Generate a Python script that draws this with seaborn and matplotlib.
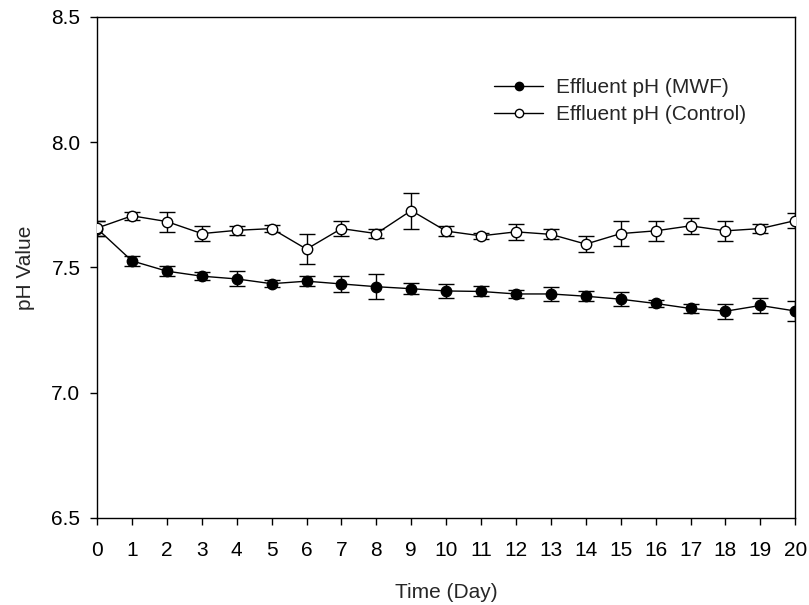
import numpy as np
import pandas as pd
import matplotlib
matplotlib.use("Agg")
import matplotlib.pyplot as plt
import seaborn as sns

days = list(range(21))
mwf = [7.655, 7.526, 7.485, 7.465, 7.454, 7.435, 7.445, 7.434, 7.423, 7.415, 7.406,
       7.404, 7.394, 7.394, 7.385, 7.373, 7.356, 7.336, 7.325, 7.348, 7.326]
mwf_err = [0.03, 0.021, 0.021, 0.016, 0.03, 0.013, 0.02, 0.031, 0.05, 0.021, 0.028,
           0.02, 0.017, 0.029, 0.019, 0.029, 0.013, 0.019, 0.029, 0.029, 0.04]
control = [7.657, 7.706, 7.683, 7.635, 7.648, 7.655, 7.573, 7.655, 7.635, 7.727, 7.645,
           7.626, 7.642, 7.632, 7.593, 7.635, 7.646, 7.666, 7.646, 7.655, 7.687]
control_err = [0.03, 0.017, 0.04, 0.03, 0.019, 0.015, 0.06, 0.029, 0.019, 0.072, 0.021,
               0.012, 0.031, 0.02, 0.031, 0.05, 0.04, 0.031, 0.04, 0.019, 0.031]
labels = ["Effluent pH (MWF)", "Effluent pH (Control)"]

sns.set_style("ticks")
plt.rcParams['font.family'] = ['Liberation Sans', 'DejaVu Sans']

fig = plt.figure(figsize=(8.09, 6.05), dpi=100)
ax = fig.add_axes([0.12, 0.144, 0.863, 0.828])

df = pd.DataFrame({"day": days, "mwf": mwf, "control": control})

ax.errorbar(days, mwf, yerr=mwf_err, fmt='none', ecolor='black', elinewidth=1,
            capsize=6, capthick=1, zorder=1)
ax.errorbar(days, control, yerr=control_err, fmt='none', ecolor='black', elinewidth=1,
            capsize=6, capthick=1, zorder=1)

sns.lineplot(data=df, x="day", y="mwf", ax=ax, color='black', linewidth=1,
             marker='o', markersize=7.5, markerfacecolor='black', markeredgecolor='black',
             markeredgewidth=1, label=labels[0], zorder=3)
sns.lineplot(data=df, x="day", y="control", ax=ax, color='black', linewidth=1,
             marker='o', markersize=7.5, markerfacecolor='white', markeredgecolor='black',
             markeredgewidth=1, label=labels[1], zorder=4)

ax.set_xlim(0, 20)
ax.set_ylim(6.5, 8.5)
ax.set_xticks(range(0, 21))
ax.set_yticks([6.5, 7.0, 7.5, 8.0, 8.5])
ax.set_yticklabels(["6.5", "7.0", "7.5", "8.0", "8.5"])
ax.tick_params(axis='both', direction='out', length=5, width=1, labelsize=15,
               colors='black', top=False, right=False)
ax.tick_params(axis='x', pad=12)
ax.tick_params(axis='y', pad=7)
for s in ax.spines.values():
    s.set_visible(True)
    s.set_linewidth(1)
    s.set_color('black')

ax.set_xlabel("Time (Day)", fontsize=15, labelpad=16)
ax.set_ylabel("pH Value", fontsize=15, labelpad=12)

leg = ax.legend(loc='upper left', bbox_to_anchor=(0.569, 0.878), frameon=False,
                fontsize=15, handlelength=2.35, handletextpad=0.6, labelspacing=0.38,
                borderpad=0, borderaxespad=0, markerscale=0.8)

fig.savefig("out.png", dpi=100)
